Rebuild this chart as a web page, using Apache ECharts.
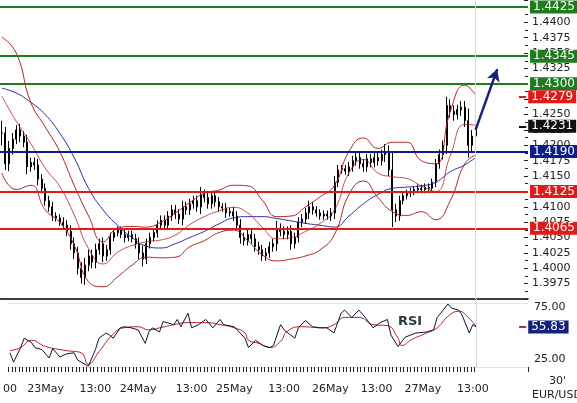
<!DOCTYPE html>
<html>
<head>
<meta charset="utf-8">
<script src="https://cdn.jsdelivr.net/npm/echarts@6/dist/echarts.min.js"></script>
<style>
  html, body { margin: 0; padding: 0; background: #fff; }
  #chart { width: 577px; height: 403px; }
</style>
</head>
<body>
<div id="chart"></div>
<script>
// EUR/USD 30' chart, one slot per bar
const slotCount = 146;
const lastSlot = 131;

const closes = [
  1.4220, 1.4170, 1.4195, 1.4210, 1.4225, 1.4215, 1.4205, 1.4165, 1.4172, 1.4168,
  1.4145, 1.4130, 1.4110, 1.4100, 1.4085, 1.4082, 1.4075, 1.4070, 1.4060, 1.4040,
  1.4025, 1.4000, 1.3985, 1.4005, 1.4020, 1.4010, 1.4030, 1.4040, 1.4020, 1.4030,
  1.4050, 1.4058, 1.4062, 1.4055, 1.4050, 1.4055, 1.4048, 1.4040, 1.4025, 1.4015,
  1.4040, 1.4050, 1.4058, 1.4070, 1.4078, 1.4070, 1.4085, 1.4095, 1.4088, 1.4080,
  1.4100, 1.4095, 1.4105, 1.4110, 1.4100, 1.4120, 1.4115, 1.4105, 1.4118, 1.4108,
  1.4100, 1.4098, 1.4090, 1.4092, 1.4085, 1.4070, 1.4050, 1.4045, 1.4055, 1.4048,
  1.4035, 1.4030, 1.4020, 1.4025, 1.4035, 1.4040, 1.4065, 1.4060, 1.4055, 1.4060,
  1.4040, 1.4050, 1.4075, 1.4080, 1.4090, 1.4100, 1.4095, 1.4090, 1.4085, 1.4088,
  1.4085, 1.4090, 1.4140, 1.4160, 1.4162, 1.4158, 1.4165, 1.4175, 1.4180, 1.4170,
  1.4165, 1.4178, 1.4172, 1.4180, 1.4175, 1.4185, 1.4190, 1.4160, 1.4095, 1.4085,
  1.4110, 1.4118, 1.4122, 1.4125, 1.4128, 1.4130, 1.4128, 1.4132, 1.4130, 1.4140,
  1.4170, 1.4185, 1.4200, 1.4265, 1.4255, 1.4250, 1.4258, 1.4262, 1.4240, 1.4200,
  1.4215, 1.4231
];
// wick beyond the body, in pips (both sides)
const wickPips = [
  20, 10, 12, 10, 8, 10, 8, 12, 8, 8,
  10, 8, 8, 8, 8, 6, 6, 8, 8, 10,
  10, 10, 10, 12, 10, 10, 10, 8, 10, 8,
  8, 6, 6, 6, 8, 6, 6, 8, 10, 12,
  8, 8, 6, 8, 8, 8, 8, 8, 8, 8,
  10, 8, 8, 8, 8, 12, 8, 8, 8, 8,
  8, 6, 8, 6, 8, 8, 10, 8, 8, 8,
  8, 8, 8, 8, 8, 8, 12, 8, 8, 8,
  10, 8, 8, 8, 8, 10, 8, 6, 6, 6,
  6, 8, 10, 8, 6, 6, 8, 8, 8, 8,
  8, 8, 8, 8, 8, 8, 12, 10, 28, 10,
  8, 6, 6, 6, 6, 6, 6, 6, 6, 6,
  8, 8, 8, 14, 10, 10, 8, 10, 10, 20,
  10, 8
];

// indicators sampled every 4 bars (last one at the final bar)
const indSlots = [0,4,8,12,16,20,24,28,32,36,40,44,48,52,56,60,64,68,72,76,80,84,88,92,96,100,104,108,112,116,120,124,128,131];
const maValues = [1.4293,1.4285,1.4270,1.4250,1.4220,1.4180,1.4130,1.4095,1.4070,1.4050,1.4036,1.4033,1.4040,1.4050,1.4060,1.4072,1.4082,1.4084,1.4084,1.4081,1.4077,1.4073,1.4070,1.4067,1.4085,1.4105,1.4120,1.4130,1.4132,1.4134,1.4140,1.4157,1.4168,1.4180];
const bandUpper = [1.4376,1.4350,1.4270,1.4230,1.4190,1.4135,1.4085,1.4043,1.4065,1.4068,1.4067,1.4075,1.4090,1.4107,1.4122,1.4127,1.4135,1.4134,1.4111,1.4084,1.4085,1.4100,1.4116,1.4135,1.4190,1.4212,1.4195,1.4205,1.4205,1.4175,1.4170,1.4255,1.4298,1.4282];
const bandMiddle = [1.4280,1.4239,1.4203,1.4163,1.4133,1.4087,1.4032,1.4007,1.4026,1.4037,1.4043,1.4046,1.4054,1.4071,1.4084,1.4093,1.4099,1.4090,1.4067,1.4048,1.4050,1.4060,1.4073,1.4095,1.4155,1.4177,1.4155,1.4149,1.4146,1.4134,1.4125,1.4183,1.4234,1.4233];
const bandLower = [1.4155,1.4128,1.4135,1.4095,1.4075,1.4038,1.3978,1.3970,1.3986,1.4005,1.4018,1.4017,1.4018,1.4035,1.4045,1.4058,1.4062,1.4045,1.4022,1.4012,1.4015,1.4020,1.4030,1.4055,1.4120,1.4142,1.4115,1.4092,1.4086,1.4092,1.4079,1.4110,1.4170,1.4184];

// RSI readings [slot, value]
const rsiPoints = [
  [0,31],[1,22],[3,36],[4,45],[6,41],[7,36],[9,34],[11,26],[12,35],[14,27],[16,30],[18,31],[19,24],[22,18],
  [24,34],[25,45],[27,50],[28,48],[29,45],[31,55],[32,56],[34,55],[36,53],[38,40],[39,51],[40,55],[42,51],
  [43,61],[44,60],[46,58],[47,63],[48,56],[50,69],[51,55],[53,58],[55,63],[57,55],[59,63],[60,58],[63,56],
  [66,45],[67,36],[69,43],[71,38],[73,36],[74,38],[76,58],[77,53],[80,45],[81,55],[83,62],[85,56],[87,55],
  [89,55],[91,50],[93,69],[94,72],[96,65],[98,72],[100,64],[102,55],[104,60],[106,63],[107,48],[109,37],
  [111,46],[114,50],[117,51],[119,53],[120,65],[121,69],[123,78],[124,74],[126,72],[127,67],[129,50],[130,58],[131,55.83]
];
const rsiSignal = [
  [0,33],[3,36],[6,43],[10,37],[16,33],[20,31],[22,20],[25,32],[29,49],[32,55],[36,56],[39,53],[42,55],
  [46,58],[50,60],[55,60],[59,58],[63,55],[66,50],[67,43],[70,40],[73,36],[76,42],[78,52],[82,56],[88,55],
  [91,58],[94,65],[98,65],[102,58],[106,57],[109,45],[110,38],[113,44],[117,50],[120,55],[123,66],[126,71],[129,64],[131,56]
];

const tickLabels = [[0,'00'],[10,'23May'],[24,'13:00'],[36,'24May'],[51,'13:00'],[63,'25May'],[77,'13:00'],[90,'26May'],[103,'13:00'],[116,'27May'],[130,'13:00']];

const levelsGreen = [1.4425, 1.4345, 1.4300];
const levelsNavy = [1.4190];
const levelsRed = [1.4125, 1.4065];

const categories = new Array(slotCount).fill('');
tickLabels.forEach(([s, t]) => { categories[s] = t; });

const ohlc = closes.map((c, i) => {
  const o = i === 0 ? c : closes[i - 1];
  const w = wickPips[i] / 10000;
  return [o, c, Math.min(o, c) - w, Math.max(o, c) + w];
});

function sparse(vals) {
  const arr = new Array(slotCount).fill(null);
  indSlots.forEach((s, k) => { arr[s] = vals[k]; });
  return arr;
}

function levelLine(v, color) {
  return {
    yAxis: v,
    lineStyle: { color: color, width: 2, type: 'solid' },
    label: {
      show: true, position: 'end', distance: 2,
      formatter: v.toFixed(4), color: '#fff', backgroundColor: color,
      fontSize: 12, padding: [1, 3, 0, 3]
    }
  };
}

function shortMark(v, color, textBg) {
  return [
    { coord: [143, v], lineStyle: { color: color, width: 2, type: 'solid' },
      label: { show: true, position: 'end', distance: 2, formatter: v.toFixed(4),
        color: '#fff', backgroundColor: textBg, fontSize: 12, padding: [1, 3, 0, 3] } },
    { coord: [145, v] }
  ];
}

const font = 'DejaVu Sans';
const clear = 'rgba(0,0,0,0)';
const chart = echarts.init(document.getElementById('chart'));

chart.setOption({
  animation: false,
  textStyle: { fontFamily: font },
  grid: [
    { left: 0, right: 49, top: 0, height: 299 },
    { left: 0, right: 49, top: 299, height: 68 }
  ],
  xAxis: [
    { type: 'category', gridIndex: 0, data: categories, boundaryGap: true,
      axisLine: { show: true, lineStyle: { color: '#000', width: 1.5 } },
      axisTick: { show: false }, axisLabel: { show: false }, splitLine: { show: false } },
    { type: 'category', gridIndex: 1, data: categories, boundaryGap: true,
      axisLine: { show: true, lineStyle: { color: '#dfe3ea' } },
      axisTick: { show: true, interval: (i) => i <= lastSlot, length: 5, lineStyle: { color: '#222' } },
      axisLabel: { interval: (i, v) => v !== '', color: '#222', fontSize: 11, margin: 17, fontFamily: font },
      splitLine: { show: false } }
  ],
  yAxis: [
    { type: 'value', gridIndex: 0, position: 'right', min: 1.3950, max: 1.44364, interval: 0.0025,
      axisLine: { show: false },
      axisTick: { show: true, inside: true, length: 4, lineStyle: { color: '#222' } },
      minorTick: { show: true, splitNumber: 2, length: 3, lineStyle: { color: '#222' } },
      axisLabel: { color: '#222', fontSize: 11, margin: 4, showMinLabel: false, showMaxLabel: false,
        formatter: (v) => v.toFixed(4), fontFamily: font },
      splitLine: { show: false } },
    { type: 'value', gridIndex: 1, position: 'right', min: 17.3, max: 82.7,
      axisLine: { show: false }, axisTick: { show: false }, axisLabel: { show: false },
      splitLine: { show: false } }
  ],
  graphic: [
    { type: 'text', left: 398, top: 315, style: { text: 'RSI', font: 'bold 13px ' + font, fill: '#2f3a40' } },
    { type: 'text', left: 549, top: 376, style: { text: "30'", font: '11px ' + font, fill: '#222' } },
    { type: 'text', left: 532, top: 390, style: { text: 'EUR/USD', font: '11px ' + font, fill: '#222' } }
  ],
  series: [
    { type: 'candlestick', xAxisIndex: 0, yAxisIndex: 0, data: ohlc, barMaxWidth: 1.5,
      itemStyle: { color: '#000', color0: '#000', borderColor: '#000', borderColor0: '#000', borderWidth: 1 },
      markLine: {
        silent: true, symbol: 'none', z: 5, precision: 4,
        data: [
          ...levelsGreen.map(v => levelLine(v, '#1e7b1e')),
          ...levelsNavy.map(v => levelLine(v, '#0c1d8c')),
          ...levelsRed.map(v => levelLine(v, '#e01b1b')),
          shortMark(1.4279, '#e01b1b', '#e01b1b'),
          shortMark(1.4231, '#111', '#111'),
          { xAxis: lastSlot, lineStyle: { color: '#d5dbe3', width: 1, type: 'solid' }, label: { show: false } },
          [
            { coord: [lastSlot, 1.4225], symbol: 'none', lineStyle: { color: '#16237a', width: 2.5, type: 'solid' }, label: { show: false } },
            { coord: [137, 1.4324], symbol: 'arrow', symbolSize: [10, 12] }
          ]
        ]
      } },
    { type: 'line', data: sparse(maValues), connectNulls: true, smooth: true, showSymbol: false,
      lineStyle: { color: '#2a2aa0', width: 1 } },
    { type: 'line', data: sparse(bandUpper), connectNulls: true, smooth: true, showSymbol: false,
      lineStyle: { color: '#b22222', width: 1 } },
    { type: 'line', data: sparse(bandMiddle), connectNulls: true, smooth: true, showSymbol: false,
      lineStyle: { color: '#b22222', width: 0.8 } },
    { type: 'line', data: sparse(bandLower), connectNulls: true, smooth: true, showSymbol: false,
      lineStyle: { color: '#b22222', width: 1 } },
    { type: 'line', xAxisIndex: 1, yAxisIndex: 1, data: rsiSignal, smooth: true, showSymbol: false,
      lineStyle: { color: '#b22222', width: 1 } },
    { type: 'line', xAxisIndex: 1, yAxisIndex: 1, data: rsiPoints, showSymbol: false,
      lineStyle: { color: '#10103a', width: 1 },
      markLine: {
        silent: true, symbol: 'none', precision: 2,
        data: [
          { yAxis: 75, lineStyle: { color: clear }, label: { show: true, position: 'end', distance: 6, formatter: '75.00', color: '#222', fontSize: 11 } },
          { yAxis: 25, lineStyle: { color: clear }, label: { show: true, position: 'end', distance: 6, formatter: '25.00', color: '#222', fontSize: 11 } },
          { yAxis: 79, lineStyle: { color: '#dfe3ea', width: 1, type: 'solid' }, label: { show: false } },
          { xAxis: lastSlot, lineStyle: { color: '#d5dbe3', width: 1, type: 'solid' }, label: { show: false } },
          [
            { coord: [143, 55.83], lineStyle: { color: '#c0262d', width: 2, type: 'solid' },
              label: { show: true, position: 'end', distance: 2, formatter: '55.83', color: '#fff',
                backgroundColor: '#14207a', fontSize: 12, padding: [1, 3, 0, 3] } },
            { coord: [145, 55.83] }
          ]
        ]
      } }
  ]
});
</script>
</body>
</html>
